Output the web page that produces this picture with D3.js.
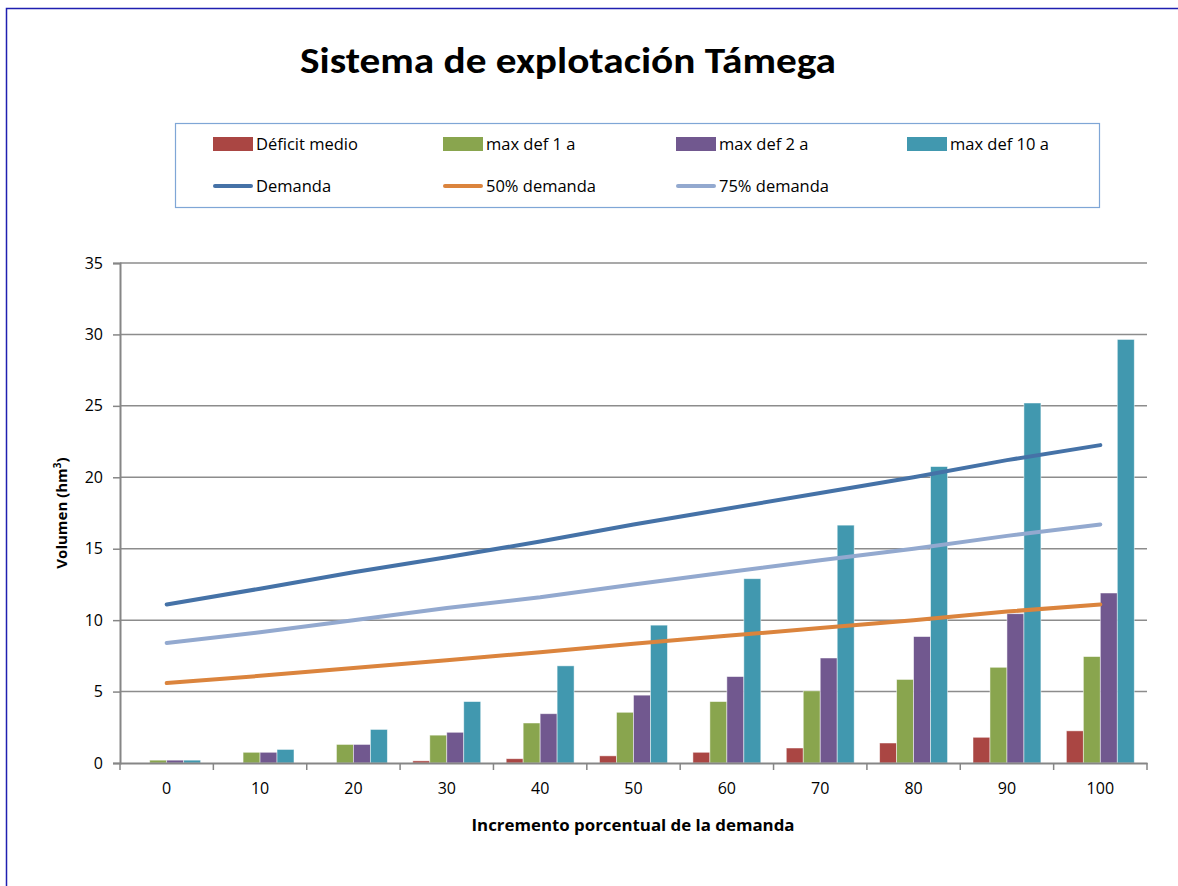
<!DOCTYPE html>
<html>
<head>
<meta charset="utf-8">
<script src="https://cdn.jsdelivr.net/npm/d3@7"></script>
<style>
  body { margin: 0; background: #fff; }
  svg { display: block; font-family: "Open Sans", "Liberation Sans", Arial, sans-serif; }
</style>
</head>
<body>
<svg id="chart" width="1178" height="886"></svg>
<script>
var categories = ['0', '10', '20', '30', '40', '50', '60', '70', '80', '90', '100']

// bar series (hm3)
var deficitMedio = [0, 0, 0, 0.15, 0.3, 0.5, 0.75, 1.05, 1.4, 1.8, 2.25]
var maxDef1 = [0.2, 0.75, 1.3, 1.95, 2.8, 3.55, 4.3, 5.05, 5.85, 6.7, 7.45]
var maxDef2 = [0.2, 0.75, 1.3, 2.15, 3.45, 4.75, 6.05, 7.35, 8.85, 10.45, 11.9]
var maxDef10 = [0.2, 0.95, 2.35, 4.3, 6.8, 9.65, 12.9, 16.65, 20.75, 25.2, 29.65]

// line series (hm3)
var demanda = [11.1, 12.2, 13.35, 14.4, 15.5, 16.7, 17.8, 18.9, 20.0, 21.2, 22.25]
var demanda50 = [5.6, 6.1, 6.65, 7.2, 7.75, 8.35, 8.9, 9.45, 10.0, 10.6, 11.1]
var demanda75 = [8.4, 9.15, 10.0, 10.85, 11.6, 12.5, 13.35, 14.2, 15.0, 15.9, 16.7]

var yTicks = [0, 5, 10, 15, 20, 25, 30, 35]

var barSeries = [
  { name: 'Déficit medio', values: deficitMedio, color: '#AA4643' },
  { name: 'max def 1 a', values: maxDef1, color: '#89A54E' },
  { name: 'max def 2 a', values: maxDef2, color: '#71588F' },
  { name: 'max def 10 a', values: maxDef10, color: '#4198AF' }
]
var lineSeries = [
  { name: 'Demanda', values: demanda, color: '#4572A7' },
  { name: '50% demanda', values: demanda50, color: '#DB843D' },
  { name: '75% demanda', values: demanda75, color: '#93A9CF' }
]

var svg = d3.select('#chart')

// outer frame
svg.append('rect').attr('x', 6.5).attr('y', 8.5).attr('width', 1300).attr('height', 1000)
  .attr('fill', 'none').attr('stroke', '#1f1fb0').attr('stroke-width', 1.5)

svg.append('text').attr('x', 568).attr('y', 73)
  .attr('text-anchor', 'middle').attr('font-size', 36).attr('font-weight', 'bold')
  .style('font-family', 'Calibri, Carlito, "Liberation Sans", Arial, sans-serif')
  .attr('textLength', 536).attr('lengthAdjust', 'spacingAndGlyphs')
  .text('Sistema de explotación Támega')

// legend
var legend = svg.append('g')
legend.append('rect').attr('x', 175.5).attr('y', 123.5).attr('width', 924).attr('height', 84)
  .attr('fill', 'none').attr('stroke', '#7fa6d6').attr('stroke-width', 1.2)

var legX = [213, 443, 676, 907]
barSeries.forEach(function (s, i) {
  legend.append('rect').attr('x', legX[i]).attr('y', 137).attr('width', 40).attr('height', 14).attr('fill', s.color)
  legend.append('text').attr('x', legX[i] + 43).attr('y', 150).attr('font-size', 16.5).text(s.name)
})
lineSeries.forEach(function (s, i) {
  legend.append('line').attr('x1', legX[i] + 2).attr('x2', legX[i] + 38).attr('y1', 186).attr('y2', 186)
    .attr('stroke', s.color).attr('stroke-width', 4).attr('stroke-linecap', 'round')
  legend.append('text').attr('x', legX[i] + 43).attr('y', 192).attr('font-size', 16.5).text(s.name)
})

// plot area
var plotLeft = 120, plotRight = 1147, plotTop = 263, plotBottom = 763

var x = d3.scaleBand().domain(categories).range([plotLeft, plotRight]).paddingInner(0).paddingOuter(0)
var xInner = d3.scaleBand().domain(barSeries.map(d => d.name))
  .range([0, x.bandwidth()]).paddingOuter(0.75).paddingInner(0)
var y = d3.scaleLinear().domain([0, 35]).range([plotBottom, plotTop])

svg.append('g').selectAll('line').data(yTicks.slice(1)).join('line')
  .attr('x1', plotLeft).attr('x2', plotRight)
  .attr('y1', d => y(d)).attr('y2', d => y(d))
  .attr('stroke', '#8c8c8c').attr('stroke-width', 1.5)

var yAxis = svg.append('g').attr('transform', 'translate(' + plotLeft + ',0)')
  .call(d3.axisLeft(y).tickValues(yTicks).tickSize(7).tickPadding(10))
yAxis.select('.domain').attr('stroke', '#868686').attr('stroke-width', 2)
yAxis.selectAll('.tick line').attr('stroke', '#868686').attr('stroke-width', 1.5)
yAxis.selectAll('.tick text').attr('font-size', 16).attr('fill', '#000')
  .style('font-family', '"Open Sans", "Liberation Sans", Arial, sans-serif')

// bars
var groups = svg.append('g').selectAll('g').data(categories).join('g')
  .attr('transform', d => 'translate(' + x(d) + ',0)')
groups.selectAll('rect').data((c, i) => barSeries.map(s => ({ s: s, v: s.values[i] })).filter(d => d.v > 0))
  .join('rect')
  .attr('x', d => xInner(d.s.name))
  .attr('width', xInner.bandwidth())
  .attr('y', d => y(d.v))
  .attr('height', d => plotBottom - y(d.v))
  .attr('fill', d => d.s.color)
  .attr('stroke', 'rgba(255,255,255,0.6)').attr('stroke-width', 0.8)

// x axis
var xAxis = svg.append('g').attr('transform', 'translate(0,' + plotBottom + ')')
  .call(d3.axisBottom(x).tickSize(0).tickPadding(20))
xAxis.select('.domain').attr('stroke', '#868686').attr('stroke-width', 2)
xAxis.selectAll('.tick text').attr('font-size', 16).attr('fill', '#000')
  .style('font-family', '"Open Sans", "Liberation Sans", Arial, sans-serif')
svg.append('g').selectAll('line').data(categories.concat(['end'])).join('line')
  .attr('x1', (d, i) => plotLeft + i * x.bandwidth()).attr('x2', (d, i) => plotLeft + i * x.bandwidth())
  .attr('y1', plotBottom).attr('y2', plotBottom + 7)
  .attr('stroke', '#868686').attr('stroke-width', 1.5)

// lines
var line = d3.line().x((d, i) => x(categories[i]) + x.bandwidth() / 2).y(d => y(d))
svg.append('g').selectAll('path').data(lineSeries).join('path')
  .attr('d', d => line(d.values))
  .attr('fill', 'none').attr('stroke', d => d.color).attr('stroke-width', 4)
  .attr('stroke-linecap', 'round').attr('stroke-linejoin', 'round')

// axis titles
svg.append('text').attr('x', 633).attr('y', 831).attr('text-anchor', 'middle')
  .attr('font-size', 16).attr('font-weight', 'bold')
  .attr('textLength', 323).attr('lengthAdjust', 'spacingAndGlyphs')
  .text('Incremento porcentual de la demanda')

var yt = svg.append('text').attr('transform', 'translate(67,513) rotate(-90)')
  .attr('text-anchor', 'middle').attr('font-size', 15).attr('font-weight', 'bold')
yt.append('tspan').text('Volumen (hm')
yt.append('tspan').attr('font-size', 10).attr('dy', -6).text('3')
yt.append('tspan').attr('dy', 6).text(')')
</script>
</body>
</html>
